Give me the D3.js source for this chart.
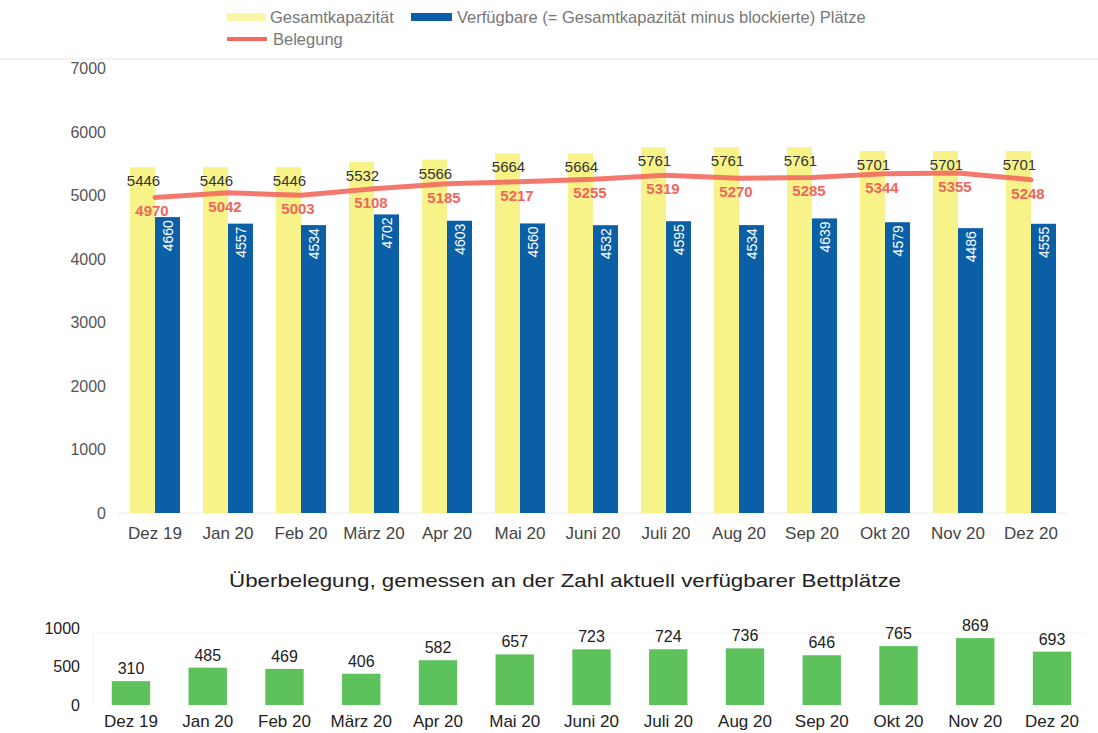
<!DOCTYPE html>
<html>
<head>
<meta charset="utf-8">
<script src="https://cdn.jsdelivr.net/npm/d3@7"></script>
<style>
  body { margin: 0; background: #fff; }
  svg { font-family: "Liberation Sans", Arial, sans-serif; }
</style>
</head>
<body>
<div id="chart"></div>
<script>
var months = ["Dez 19", "Jan 20", "Feb 20", "März 20", "Apr 20", "Mai 20", "Juni 20",
              "Juli 20", "Aug 20", "Sep 20", "Okt 20", "Nov 20", "Dez 20"];
var gesamt = [5446, 5446, 5446, 5532, 5566, 5664, 5664, 5761, 5761, 5761, 5701, 5701, 5701];
var verfuegbar = [4660, 4557, 4534, 4702, 4603, 4560, 4532, 4595, 4534, 4639, 4579, 4486, 4555];
var belegung = [4970, 5042, 5003, 5108, 5185, 5217, 5255, 5319, 5270, 5285, 5344, 5355, 5248];
var ueberbelegung = [310, 485, 469, 406, 582, 657, 723, 724, 736, 646, 765, 869, 693];
var topTicks = [0, 1000, 2000, 3000, 4000, 5000, 6000, 7000];
var bottomTicks = [0, 500, 1000];

var width = 1098,
    height = 733,
    colYellow = "#f8f388",
    colBlue = "#0b5fa6",
    colRed = "#f26a5e",
    colGreen = "#5ec25c";

var rows = months.map((m, i) => ({
    name: m,
    gesamt: gesamt[i],
    verf: verfuegbar[i],
    beleg: belegung[i],
    ueber: ueberbelegung[i]
}));

var svg = d3.select("#chart")
    .append("svg")
    .attr("width", width)
    .attr("height", height);

// faint border line under the legend
svg.append("line")
    .attr("x1", 0).attr("x2", width)
    .attr("y1", 59).attr("y2", 59)
    .attr("stroke", "#e6e6e6");

// ---- Legend
let legend = svg.append("g").attr("font-size", 16.5).attr("fill", "#777");
legend.append("rect").attr("x", 227).attr("y", 13).attr("width", 39).attr("height", 8).attr("fill", "#faf6a8");
legend.append("text").attr("x", 270).attr("y", 23).text("Gesamtkapazität");
legend.append("rect").attr("x", 411).attr("y", 13).attr("width", 41).attr("height", 8).attr("fill", colBlue);
legend.append("text").attr("x", 457).attr("y", 23).text("Verfügbare (= Gesamtkapazität minus blockierte) Plätze");
legend.append("rect").attr("x", 227).attr("y", 37).attr("width", 40).attr("height", 4).attr("fill", colRed);
legend.append("text").attr("x", 273).attr("y", 45).text("Belegung");

// ---- Top chart
let x0 = d3.scaleBand()
    .domain(months)
    .range([118.5, 1067.5])
    .paddingInner(0.315)
    .paddingOuter(0.1575);

let x1 = d3.scaleBand()
    .domain(["gesamt", "verf"])
    .range([0, x0.bandwidth()]);

let y = d3.scaleLinear()
    .domain([0, 7000])
    .range([513, 68.5]);

// baseline
svg.append("line")
    .attr("x1", 118).attr("x2", 1067)
    .attr("y1", y(0)).attr("y2", y(0))
    .attr("stroke", "#ececec");

// y axis labels
svg.append("g")
    .attr("transform", "translate(106, 0)")
    .call(d3.axisLeft(y).tickValues(topTicks).tickSize(0).tickPadding(0).tickFormat(d3.format("d")))
    .call(g => g.select(".domain").remove())
    .call(g => g.selectAll("text")
        .attr("font-size", 16)
        .attr("font-family", "Liberation Sans, Arial, sans-serif")
        .attr("fill", "#555"));

// x axis labels
svg.append("g")
    .attr("transform", `translate(0, ${y(0)})`)
    .call(d3.axisBottom(x0).tickSize(0).tickPadding(14))
    .call(g => g.select(".domain").remove())
    .call(g => g.selectAll("text")
        .attr("font-size", 17)
        .attr("font-family", "Liberation Sans, Arial, sans-serif")
        .attr("fill", "#444"));

let groups = svg.append("g")
    .selectAll("g")
    .data(rows)
    .join("g")
    .attr("transform", d => `translate(${x0(d.name)}, 0)`);

groups.append("rect")
    .attr("x", x1("gesamt"))
    .attr("y", d => y(d.gesamt))
    .attr("width", x1.bandwidth())
    .attr("height", d => y(0) - y(d.gesamt))
    .attr("fill", colYellow);

groups.append("rect")
    .attr("x", x1("verf"))
    .attr("y", d => y(d.verf))
    .attr("width", x1.bandwidth())
    .attr("height", d => y(0) - y(d.verf))
    .attr("fill", colBlue);

// Gesamtkapazität labels
groups.append("text")
    .attr("x", x1("gesamt") + x1.bandwidth() / 2 + 1)
    .attr("y", d => y(d.gesamt) + 19)
    .attr("text-anchor", "middle")
    .attr("font-size", 15)
    .attr("fill", "#333")
    .text(d => d.gesamt);

// Verfügbare labels (rotated, white)
groups.append("text")
    .attr("transform", d => `translate(${x1("verf") + x1.bandwidth() / 2 + 5}, ${y(d.verf) + 3}) rotate(-90)`)
    .attr("text-anchor", "end")
    .attr("font-size", 14)
    .attr("fill", "#fff")
    .text(d => d.verf);

// Belegung line
let line = d3.line()
    .x(d => x0(d.name) + x0.bandwidth() / 2)
    .y(d => y(d.beleg));

svg.append("path")
    .datum(rows)
    .attr("d", line)
    .attr("fill", "none")
    .attr("stroke", colRed)
    .attr("stroke-width", 5)
    .attr("stroke-opacity", 0.9)
    .attr("stroke-linejoin", "round")
    .attr("stroke-linecap", "round");

groups.append("text")
    .attr("x", x0.bandwidth() / 2 - 3)
    .attr("y", d => y(d.beleg) + 19)
    .attr("text-anchor", "middle")
    .attr("font-size", 15)
    .attr("font-weight", "bold")
    .attr("fill", "#f0665c")
    .text(d => d.beleg);

// ---- Bottom chart
svg.append("text")
    .attr("x", 565)
    .attr("y", 587)
    .attr("text-anchor", "middle")
    .attr("font-size", 19)
    .attr("fill", "#222")
    .attr("textLength", 672)
    .attr("lengthAdjust", "spacingAndGlyphs")
    .text("Überbelegung, gemessen an der Zahl aktuell verfügbarer Bettplätze");

let xb = d3.scaleBand()
    .domain(months)
    .range([92.6, 1090.4])
    .paddingInner(0.5)
    .paddingOuter(0.25);

let yb = d3.scaleLinear()
    .domain([0, 1000])
    .range([705, 628]);

// faint grid line and left rule
svg.append("line")
    .attr("x1", 93).attr("x2", 1085)
    .attr("y1", yb(1000) + 5).attr("y2", yb(1000) + 5)
    .attr("stroke", "#f0f0f0");
svg.append("line")
    .attr("x1", 93).attr("x2", 93)
    .attr("y1", yb(1000) + 5).attr("y2", yb(0))
    .attr("stroke", "#f0f0f0");

svg.append("g")
    .attr("transform", "translate(80, 0)")
    .call(d3.axisLeft(yb).tickValues(bottomTicks).tickSize(0).tickPadding(0).tickFormat(d3.format("d")))
    .call(g => g.select(".domain").remove())
    .call(g => g.selectAll("text")
        .attr("font-size", 16)
        .attr("font-family", "Liberation Sans, Arial, sans-serif")
        .attr("fill", "#222"));

svg.append("g")
    .attr("transform", `translate(0, ${yb(0)})`)
    .call(d3.axisBottom(xb).tickSize(0).tickPadding(10))
    .call(g => g.select(".domain").remove())
    .call(g => g.selectAll("text")
        .attr("font-size", 17)
        .attr("font-family", "Liberation Sans, Arial, sans-serif")
        .attr("fill", "#222"));

svg.append("g")
    .selectAll("rect")
    .data(rows)
    .join("rect")
    .attr("x", d => xb(d.name))
    .attr("y", d => yb(d.ueber))
    .attr("width", xb.bandwidth())
    .attr("height", d => yb(0) - yb(d.ueber))
    .attr("fill", colGreen);

svg.append("g")
    .selectAll("text")
    .data(rows)
    .join("text")
    .attr("x", d => xb(d.name) + xb.bandwidth() / 2)
    .attr("y", d => yb(d.ueber) - 7)
    .attr("text-anchor", "middle")
    .attr("font-size", 16)
    .attr("fill", "#222")
    .text(d => d.ueber);
</script>
</body>
</html>
